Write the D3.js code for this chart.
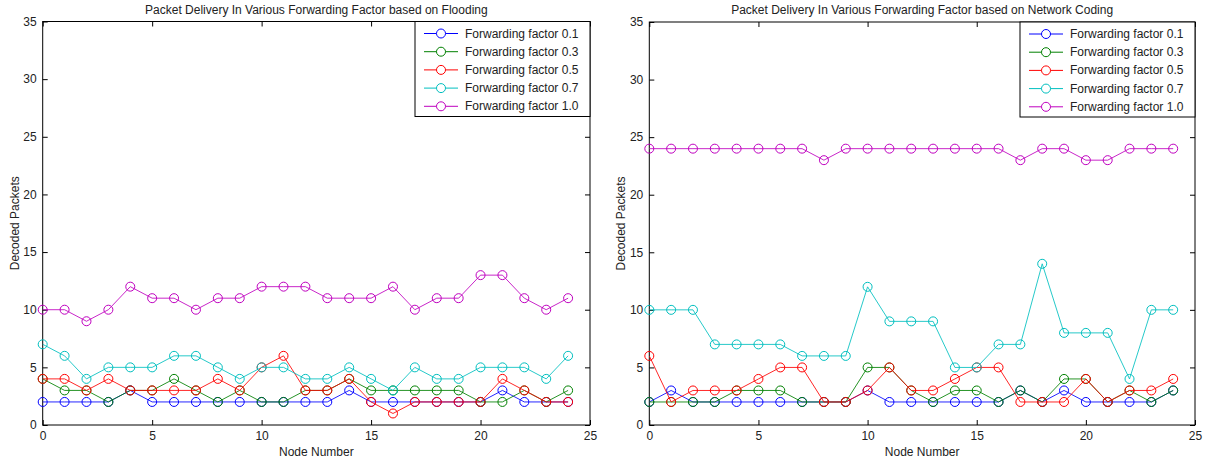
<!DOCTYPE html>
<html>
<meta charset="utf-8">
<style>
  body { margin: 0; background: #fff; }
  text { font-family: Arial, "Liberation Sans", sans-serif; font-size: 12px; fill: #222; }
  .box { fill: none; stroke: #000; stroke-width: 1; }
  .tick line { stroke: #000; }
</style>
<script src="https://d3js.org/d3.v7.min.js"></script>
<body>
<script>
// node numbers on the x axis
var nodes = [0,1,2,3,4,5,6,7,8,9,10,11,12,13,14,15,16,17,18,19,20,21,22,23,24];
var seriesNames = ["Forwarding factor 0.1", "Forwarding factor 0.3", "Forwarding factor 0.5", "Forwarding factor 0.7", "Forwarding factor 1.0"];
var seriesColors = ["#0000ff", "#008000", "#ff0000", "#00bfbf", "#bf00bf"];
var xTicks = [0,5,10,15,20,25];
var yTicks = [0,5,10,15,20,25,30,35];

// flooding
var floodF01 = [2,2,2,2,3,2,2,2,2,2,2,2,2,2,3,2,2,2,2,2,2,3,2,2,2];
var floodF03 = [4,3,3,2,3,3,4,3,2,3,2,2,3,3,4,3,3,3,3,3,2,2,3,2,3];
var floodF05 = [4,4,3,4,3,3,3,3,4,3,5,6,3,3,4,2,1,2,2,2,2,4,3,2,2];
var floodF07 = [7,6,4,5,5,5,6,6,5,4,5,5,4,4,5,4,3,5,4,4,5,5,5,4,6];
var floodF10 = [10,10,9,10,12,11,11,10,11,11,12,12,12,11,11,11,12,10,11,11,13,13,11,10,11];

// network coding
var codingF01 = [2,3,2,2,2,2,2,2,2,2,3,2,2,2,2,2,2,3,2,3,2,2,2,2,3];
var codingF03 = [2,2,2,2,3,3,3,2,2,2,5,5,3,2,3,3,2,3,2,4,4,2,3,2,3];
var codingF05 = [6,2,3,3,3,4,5,5,2,2,3,5,3,3,4,5,5,2,2,2,4,2,3,3,4];
var codingF07 = [10,10,10,7,7,7,7,6,6,6,12,9,9,9,5,5,7,7,14,8,8,8,4,10,10];
var codingF10 = [24,24,24,24,24,24,24,24,23,24,24,24,24,24,24,24,24,23,24,24,23,23,24,24,24];

var W = 1219, H = 464;
var svg = d3.select("body").append("svg").attr("width", W).attr("height", H);

function drawPanel(left, right, top, bottom, title, data) {
  var x = d3.scaleLinear().domain([0, 25]).range([left, right]);
  var y = d3.scaleLinear().domain([0, 35]).range([bottom, top]);
  var g = svg.append("g");

  g.append("g").attr("class", "tick")
    .attr("transform", "translate(0," + bottom + ")")
    .call(d3.axisBottom(x).tickValues(xTicks).tickSizeInner(-5).tickSizeOuter(0).tickPadding(6))
    .call(function(a){ a.select(".domain").remove(); });
  g.append("g").attr("class", "tick")
    .attr("transform", "translate(0," + top + ")")
    .call(d3.axisTop(x).tickValues(xTicks).tickSizeInner(-5).tickSizeOuter(0).tickFormat(""))
    .call(function(a){ a.select(".domain").remove(); });
  g.append("g").attr("class", "tick")
    .attr("transform", "translate(" + left + ",0)")
    .call(d3.axisLeft(y).tickValues(yTicks).tickSizeInner(-5).tickSizeOuter(0).tickPadding(6))
    .call(function(a){ a.select(".domain").remove(); });
  g.append("g").attr("class", "tick")
    .attr("transform", "translate(" + right + ",0)")
    .call(d3.axisRight(y).tickValues(yTicks).tickSizeInner(-5).tickSizeOuter(0).tickFormat(""))
    .call(function(a){ a.select(".domain").remove(); });
  g.selectAll(".tick text").style("font-size", "12px").attr("fill", "#222");

  g.append("rect").attr("class", "box")
    .attr("x", left).attr("y", top).attr("width", right - left).attr("height", bottom - top);

  var line = d3.line().x(function(d, i){ return x(nodes[i]); }).y(function(d){ return y(d); });

  data.forEach(function(vals, k) {
    var s = g.append("g");
    s.append("path").datum(vals)
      .attr("d", line)
      .attr("fill", "none")
      .attr("stroke", seriesColors[k])
      .attr("stroke-opacity", 0.85)
      .attr("stroke-width", 1);
    s.selectAll("circle").data(vals).enter().append("circle")
      .attr("cx", function(d, i){ return x(nodes[i]); })
      .attr("cy", function(d){ return y(d); })
      .attr("r", 4.5)
      .attr("fill", "none")
      .attr("stroke", seriesColors[k])
      .attr("stroke-width", 1);
  });

  g.append("text").attr("x", (left + right) / 2).attr("y", top - 8)
    .attr("text-anchor", "middle").text(title);
  g.append("text").attr("x", (left + right) / 2).attr("y", bottom + 31)
    .attr("text-anchor", "middle").text("Node Number");
  g.append("text")
    .attr("transform", "translate(" + (left - 24) + "," + ((top + bottom) / 2) + ") rotate(-90)")
    .attr("text-anchor", "middle").text("Decoded Packets");

  // legend
  var lw = 175, lx = right - lw;
  var leg = g.append("g");
  leg.append("rect").attr("x", lx).attr("y", top).attr("width", lw).attr("height", 95)
    .attr("fill", "#fff").attr("stroke", "#000");
  seriesNames.forEach(function(name, k) {
    var ly = top + 12 + k * 18.2;
    leg.append("line").attr("x1", lx + 9).attr("x2", lx + 43).attr("y1", ly).attr("y2", ly)
      .attr("stroke", seriesColors[k]);
    leg.append("circle").attr("cx", lx + 26).attr("cy", ly).attr("r", 4.5)
      .attr("fill", "#fff").attr("stroke", seriesColors[k]);
    leg.append("text").attr("x", lx + 50).attr("y", ly + 4).text(name);
  });
}

drawPanel(42.7, 590, 21.5, 425, "Packet Delivery In Various Forwarding Factor based on Flooding",
  [floodF01, floodF03, floodF05, floodF07, floodF10]);
drawPanel(649.3, 1195, 22, 425, "Packet Delivery In Various Forwarding Factor based on Network Coding",
  [codingF01, codingF03, codingF05, codingF07, codingF10]);
</script>
</body>
</html>
